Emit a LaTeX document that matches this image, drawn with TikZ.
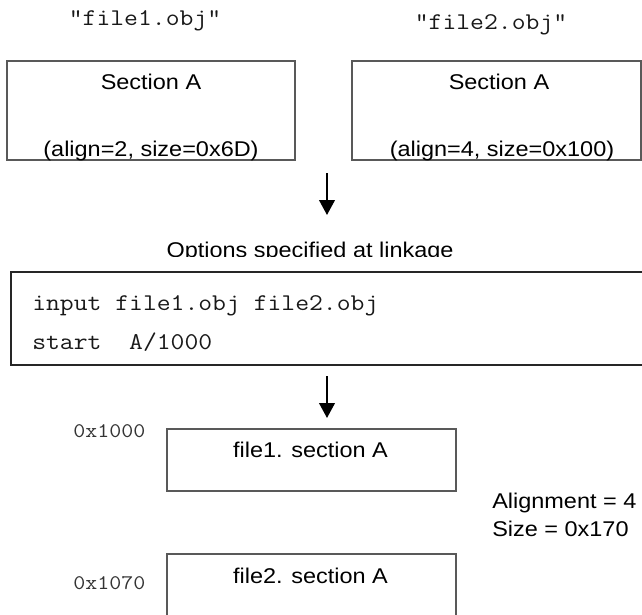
\documentclass[tikz,border=0pt]{standalone}
\usepackage{fontspec}
\setmainfont{Liberation Sans}[FakeStretch=1.1]
\setmonofont{Latin Modern Mono}[FakeStretch=1.12]
\usetikzlibrary{arrows.meta}
\tikzset{
  lbl/.style={inner sep=0pt, font=\fontsize{16pt}{19pt}\selectfont},
  mono/.style={inner sep=0pt, font=\fontsize{18pt}{21pt}\selectfont\ttfamily, text=black!90},
  addr/.style={inner sep=0pt, font=\fontsize{15.6pt}{18pt}\selectfont\ttfamily, text=black!80},
  box/.style={draw=black!65, line width=0.9pt, inner sep=0pt, outer sep=0pt},
  codeframe/.style={draw=black!85, line width=0.9pt},
  flow/.style={line width=1.5pt, -{Triangle[width=11.75pt,length=11.25pt]}},
}
\begin{document}
\begin{tikzpicture}[x=0.75pt,y=-0.75pt]
\useasboundingbox (0,0) rectangle (642,614);
% top file titles
\node[mono, anchor=base] (t1) at (145,26) {"file1.obj"};
\node[mono, anchor=base] (t2) at (491,29) {"file2.obj"};
% top boxes
\node[box, anchor=north west, minimum width=216pt, minimum height=74.25pt] (b1) at (7,61) {};
\node[box, anchor=north west, minimum width=216.75pt, minimum height=74.25pt] (b2) at (352,61) {};
\node[lbl, anchor=base] (s1) at (151,89) {Section A};
\node[lbl, anchor=base] (p1) at (151,156) {(align=2, size=0x6D)};
\node[lbl, anchor=base] (s2) at (499,89) {Section A};
\node[lbl, anchor=base] (p2) at (502,156) {(align=4, size=0x100)};
% arrow 1
\coordinate (a1s) at (327,173);
\coordinate (a1e) at (327,215);
\draw[flow] (a1s) -- (a1e);
% options label (clipped at bottom as in the reference)
\begin{scope}
\clip (0,0) rectangle (642,256.5);
\node[lbl, anchor=base] (opt) at (310,257) {Options specified at linkage};
\end{scope}
% code box (open on the right)
\node[inner sep=0pt, outer sep=0pt, anchor=north west, minimum width=480pt, minimum height=69.75pt] (code) at (11,272) {};
\draw[codeframe] (code.north east) -- (code.north west) -- (code.south west) -- (code.south east);
\node[mono, anchor=base west] (c1) at (32,310) {input file1.obj file2.obj};
\node[mono, anchor=base west] (c2) at (32,349) {start\ \ A/1000};
% arrow 2
\coordinate (a2s) at (327,376);
\coordinate (a2e) at (327,418);
\draw[flow] (a2s) -- (a2e);
% result layout
\node[addr, anchor=base west] (ad1) at (73,437) {0x1000};
\node[box, anchor=north west, minimum width=216.75pt, minimum height=46.5pt] (b3) at (167,429) {};
\node[lbl, anchor=base] (f1s) at (310.5,457) {file1. section A};
\node[lbl, anchor=base west] (al) at (492,508) {Alignment = 4};
\node[lbl, anchor=base west] (sz) at (492,536) {Size = 0x170};
\node[addr, anchor=base west] (ad2) at (73,589) {0x1070};
\node[box, anchor=north west, minimum width=216.75pt, minimum height=60pt] (b4) at (167,554) {};
\node[lbl, anchor=base] (f2s) at (310.5,583) {file2. section A};
\end{tikzpicture}
\end{document}
